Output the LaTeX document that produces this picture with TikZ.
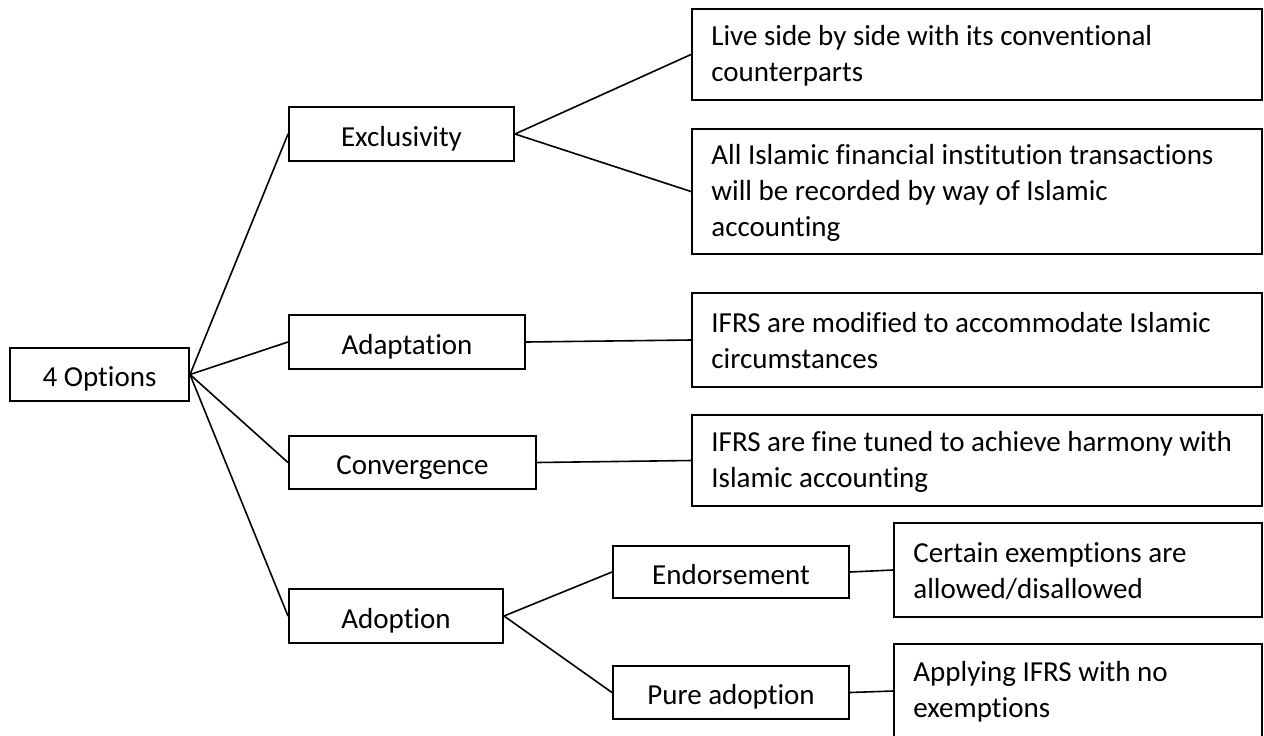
\documentclass[tikz,border=0pt]{standalone}
\usepackage{fontspec}
\setmainfont{Carlito}[Ligatures=NoCommon]
\begin{document}
\begin{tikzpicture}[x=0.5pt, y=-0.5pt,
  every node/.style={font=\fontsize{14.5pt}{18pt}\selectfont},
  box/.style={draw, line width=1pt, inner sep=0pt},
  single/.style={box, text height=14.5pt, text depth=2.5pt},
  boxsize/.style 2 args={minimum width=#1, minimum height=#2},
  note/.style={label={[notetext]west:{#1}}},
  notetext/.style={anchor=west, align=left, inner sep=0pt, xshift=10pt, yshift=-0.5pt},
  link/.style={line width=0.8pt}]
\clip (0,0) rectangle (1264,735);
\fill[white] (0,0) rectangle (1264,735);

% root and the four options
\node[single, boxsize={89.5pt}{26.5pt}]  (opt)   at (99.5,374.5) {4 Options};
\node[single, boxsize={112.5pt}{27pt}]   (excl)  at (401.5,134)  {Exclusivity};
\node[single, boxsize={118pt}{27pt}]     (adapt) at (407,342)    {Adaptation};
\node[single, boxsize={123.5pt}{26.5pt}] (conv)  at (412.5,462.5) {Convergence};
\node[single, boxsize={107pt}{27pt}]     (adop)  at (396,616)    {Adoption};

% sub-options of adoption
\node[single, boxsize={118pt}{26pt}]     (endo)  at (731,572)    {Endorsement};
\node[single, boxsize={118pt}{26.5pt}]   (pure)  at (731,692.5)  {Pure adoption};

% descriptions
\node[box, boxsize={285pt}{45.5pt}, at={(977,54.5)},
      note={Live side by side with its conventional\\counterparts}] (live) {};
\node[box, boxsize={285pt}{62.5pt}, at={(977,191.5)},
      note={All Islamic financial institution transactions\\will be recorded by way of Islamic\\accounting}] (all) {};
\node[box, boxsize={285pt}{47pt}, at={(977,340)},
      note={IFRS are modified to accommodate Islamic\\circumstances}] (mod) {};
\node[box, boxsize={285pt}{45.5pt}, at={(977,460.5)},
      note={IFRS are fine tuned to achieve harmony with\\Islamic accounting}] (fine) {};
\node[box, boxsize={184pt}{47pt}, at={(1078,570)},
      note={Certain exemptions are\\allowed/disallowed}] (cert) {};
\node[box, boxsize={184pt}{47pt}, at={(1078,691)},
      note={Applying IFRS with no\\exemptions}] (appl) {};

% connectors
\draw[link] (opt.east) -- (excl.west);
\draw[link] (opt.east) -- (adapt.west);
\draw[link] (opt.east) -- (conv.west);
\draw[link] (opt.east) -- (adop.west);
\draw[link] (excl.east) -- (live.west);
\draw[link] (excl.east) -- (all.west);
\draw[link] (adapt.east) -- (mod.west);
\draw[link] (conv.east) -- (fine.west);
\draw[link] (adop.east) -- (endo.west);
\draw[link] (adop.east) -- (pure.west);
\draw[link] (endo.east) -- (cert.west);
\draw[link] (pure.east) -- (appl.west);
\end{tikzpicture}
\end{document}
